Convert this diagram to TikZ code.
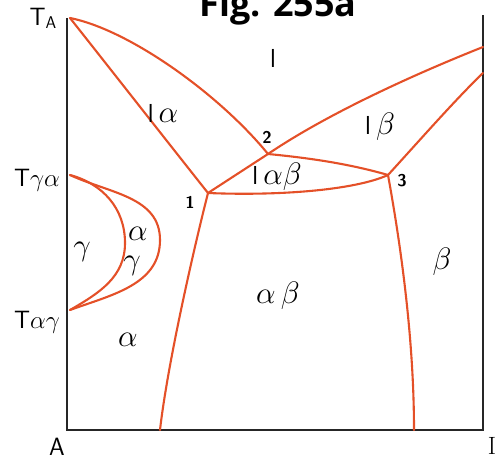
\RequirePackage{fix-cm}
\documentclass[tikz,border=0pt]{standalone}
\usepackage{fontspec}
\newfontfamily\titlefont{Open Sans}
\usepackage{amsmath}
\usepackage{tikz}
\usetikzlibrary{positioning}
\definecolor{phasered}{RGB}{228,80,40}
\newcommand\liqd{{\sffamily\fontsize{26}{28}\selectfont l}}
\tikzset{
  bnd/.style={draw=phasered, line width=2.1pt, line cap=round},
  axis/.style={draw=black!85, line width=1.8pt},
  reg/.style={font=\fontsize{31}{33}\selectfont, inner sep=0pt},
  tlab/.style={font=\sffamily\fontsize{25}{27}\selectfont, inner sep=0pt},
  ptlab/.style={font=\sffamily\bfseries\fontsize{17}{19}\selectfont, inner sep=0pt},
}

\begin{document}
\begin{tikzpicture}[x=1pt,y=-1pt]
  \useasboundingbox (0,0) rectangle (496,460);
  \coordinate (TA) at (70,18);
  \coordinate (Tga) at (70,175);
  \coordinate (Tag) at (70,310);
  \coordinate (p1) at (208,193);
  \coordinate (p2) at (268,154);
  \coordinate (p3) at (388,175);
  \coordinate (TBl) at (483,47);
  \coordinate (TBs) at (483,73);
  \coordinate (sa) at (160,430);
  \coordinate (sb) at (414,430);
  \coordinate (O) at (67,430);
  \coordinate (E) at (483,430);

  \draw[axis] (67,18) -- (O) -- (E) -- (483,15);

  \draw[bnd] (TA) .. controls (130,30) and (220,95) .. (p2);
  \draw[bnd] (TA) .. controls (108,66) and (166,140) .. (p1);
  \draw[bnd] (p1) -- (p2);
  \draw[bnd] (p2) .. controls (330,112) and (420,72) .. (TBl);
  \draw[bnd] (p3) .. controls (420,140) and (455,100) .. (TBs);
  \draw[bnd] (p2) .. controls (310,158) and (350,164) .. (p3);
  \draw[bnd] (p1) .. controls (280,196) and (355,190) .. (p3);
  \draw[bnd] (p1) .. controls (196,240) and (168,360) .. (sa);
  \draw[bnd] (p3) .. controls (398,230) and (414,330) .. (sb);
  \draw[bnd] (Tga) to[out=-15,in=90] (125,243) to[out=-90,in=30] (Tag);
  \draw[bnd] (Tga) to[out=-25,in=90] (160,240) to[out=-90,in=20] (Tag);

  \node[font=\titlefont\bfseries\fontsize{36}{38}\selectfont, anchor=base] (title) at (278,17) {Fig. 255a};

  \node[tlab] (lTA) at (43,18) {T\raisebox{-3pt}{\fontsize{17}{17}\selectfont A}};
  \node[tlab] (lTga) at (37,180) {T$\gamma\alpha$};
  \node[tlab] (lTag) at (37,322) {T$\alpha\gamma$};
  \node[tlab] (lA) at (57,447) {A};
  \node[tlab, font=\rmfamily\fontsize{25}{27}\selectfont] (lI) at (492,446) {I};

  \node[ptlab] (n1) at (190,202) {1};
  \node[ptlab] (n2) at (267,137) {2};
  \node[ptlab] (n3) at (402,181) {3};

  \node[reg] (rl) at (273,58) {\liqd};
  \node[reg] (rla) at (163,113) {\liqd\,$\alpha$};
  \node[reg] (rlb) at (380,127) {\liqd\,$\beta$};
  \node[reg] (rlab) at (277,177) {\liqd\,$\alpha\beta$};
  \node[reg] (rg) at (82,252) {$\gamma$};
  \node[reg] (rag1) at (138,234) {$\alpha$};
  \node[reg] (rag2) at (132,266) {$\gamma$};
  \node[reg] (ra) at (128,340) {$\alpha$};
  \node[reg] (rab) at (278,296) {$\alpha\,\beta$};
  \node[reg] (rb) at (442,262) {$\beta$};
\end{tikzpicture}
\end{document}
